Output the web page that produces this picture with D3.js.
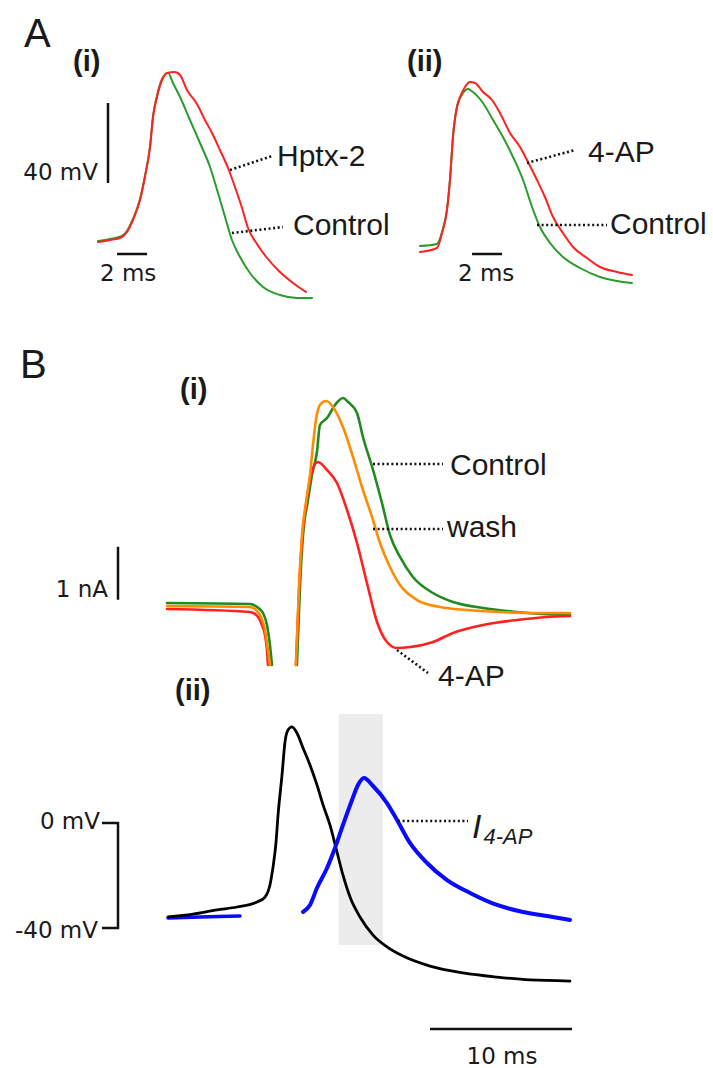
<!DOCTYPE html>
<html><head><meta charset="utf-8">
<script src="https://cdn.jsdelivr.net/npm/d3@7"></script>
<style>
html,body{margin:0;padding:0;background:#fff;}
svg{display:block;}
.lab{font-family:"Liberation Sans",Arial,sans-serif;font-size:30px;fill:#1a1a1a;}
.sub{font-weight:bold;}
.sc{font-family:"DejaVu Sans",sans-serif;font-size:23px;fill:#1a1a1a;}
</style></head><body>
<svg id="c" width="713" height="1068"></svg>
<script>
// ---------- DATA ----------
// Panel A(i): time (ms), membrane potential (mV)
const a1_t_hptx = [0,0.8,1.6,1.93,2.33,2.8,3.13,3.47,3.67,3.93,4.27,4.6,5.13,5.47,5.93,6.6,7.13,7.6,8.13,8.67,9.2,9.6,10.0,10.6,11.27,12.13,13.0,13.87];
const a1_v_hptx = [-61,-60,-58.5,-56,-50,-40,-28.5,-13.5,1.5,11.5,20,23.5,24,22.5,15,8,0,-6.5,-15,-24,-35,-44,-54,-62,-69,-76,-81.5,-86];
const a1_t_ctrl = [0,0.8,1.6,1.93,2.33,2.8,3.13,3.47,3.67,3.93,4.27,4.67,5.0,5.47,6.13,6.8,7.47,8.0,8.47,8.93,9.47,10.13,11.0,12.13,13.27,14.27];
const a1_v_ctrl = [-60.5,-59.5,-58,-55.5,-49.5,-39.5,-28,-13,2,12,20.5,23.5,18.5,11.5,0,-11.5,-23.5,-36.5,-48.5,-60,-68.5,-76.5,-83.5,-87.5,-89,-89];
// Panel A(ii)
const a2_t_4ap = [0,1.13,1.47,1.8,2.0,2.2,2.47,2.67,3.0,3.33,3.67,4.2,4.8,5.33,6.0,6.67,7.2,7.8,8.33,8.87,9.53,10.2,11.13,12.0,13.13,14.13];
const a2_v_4ap = [-61,-59,-51.5,-40,-25,-3.5,11.5,16.5,21.5,24,23.5,19,15,8.5,-1.5,-8.5,-16,-25,-33.5,-43.5,-51.5,-58.5,-64,-68.5,-71,-72.5];
const a2_t_ctrl = [0,1.13,1.47,1.8,2.0,2.2,2.47,2.87,3.2,3.53,4.2,4.87,5.53,6.2,6.87,7.47,8.0,8.67,9.53,10.67,12.0,13.13,14.13];
const a2_v_ctrl = [-58,-57,-51,-39.5,-24.5,-3,12,18.5,20.5,19,13.5,5,-3.5,-13.5,-25,-38.5,-48.5,-56.5,-63.5,-69,-73.5,-75.5,-76.5];
// Panel B(i): time (ms), current (nA); two segments each (before / after the blanked transient)
const b1_ctrl_t1 = [0,5.85,6.34,6.76,7.04,7.25,7.39];
const b1_ctrl_i1 = [0.189,0.170,0.113,0,-0.226,-0.604,-0.981];
const b1_ctrl_t2 = [9.15,9.37,9.58,9.93,10.21,10.56,10.77,11.27,11.83,12.39,12.75,13.38,13.80,14.51,15.14,15.70,16.41,17.32,18.73,20.14,22.25,24.65,26.48,28.38];
const b1_ctrl_i2 = [-0.981,0.528,1.472,2.132,2.604,3.038,3.547,3.679,3.925,4.057,3.981,3.774,3.321,2.698,2.075,1.472,1.057,0.679,0.377,0.208,0.094,0.019,-0.019,-0.038];
const b1_wash_t1 = [0,5.85,6.27,6.62,6.90,7.11,7.25];
const b1_wash_i1 = [0.132,0.113,0.057,-0.075,-0.321,-0.698,-0.981];
const b1_wash_t2 = [9.08,9.30,9.51,9.79,10.07,10.28,10.49,10.77,11.20,11.69,12.39,13.10,13.80,14.44,15.00,15.70,16.41,17.61,19.23,21.13,23.45,25.77,28.38];
const b1_wash_i2 = [-0.981,0.528,1.472,2.094,2.604,3.170,3.642,3.925,4.000,3.887,3.509,2.943,2.321,1.811,1.321,0.868,0.528,0.245,0.113,0.057,0.019,0,0];
const b1_4ap_t1 = [0,5.85,6.41,6.69,6.90,7.04,7.11];
const b1_4ap_i1 = [0.075,0.019,-0.075,-0.226,-0.415,-0.698,-0.981];
const b1_4ap_t2 = [9.08,9.30,9.51,9.79,10.07,10.35,10.63,11.27,11.97,12.68,13.38,14.08,14.79,15.49,16.20,17.11,18.73,20.14,22.25,24.65,26.76,28.38];
const b1_4ap_i2 = [-0.981,0.434,1.377,2.038,2.509,2.774,2.849,2.698,2.453,1.943,1.321,0.566,-0.170,-0.547,-0.660,-0.642,-0.547,-0.377,-0.226,-0.132,-0.075,-0.057];
// Panel B(ii): action potential (mV) and normalised I4-AP
const b2_ap_t = [0.07,1.83,3.52,4.93,6.34,6.90,7.25,7.46,7.68,7.82,8.10,8.31,8.52,8.80,9.15,9.58,10.07,10.56,10.99,11.48,11.97,12.39,12.89,13.59,14.51,15.49,16.62,18.52,20.85,23.24,25.56,28.38];
const b2_ap_v = [-35.8,-34.7,-33.1,-32.0,-30.1,-28.2,-23.6,-17.1,-7.2,3.0,18.3,30.9,35.4,36.6,34.3,28.6,22.1,14.5,6.9,-0.8,-11.0,-19.8,-28.2,-35.8,-42.7,-47.2,-50.7,-54.5,-57.1,-58.7,-59.8,-60.2];
const b2_i_t1 = [0.07,2.32,5.14];
const b2_i_v1 = [0,0.007,0.014];
const b2_i_t2 = [9.58,10.07,10.56,11.27,11.83,12.39,13.03,13.45,13.87,14.51,15.49,16.20,17.11,18.31,19.72,21.34,23.24,25.07,26.76,28.38];
const b2_i_v2 = [0.043,0.093,0.214,0.357,0.5,0.664,0.843,0.95,1.0,0.943,0.821,0.7,0.536,0.393,0.271,0.179,0.093,0.043,0.014,-0.014];
const b2_shade = [12.1, 15.2];      // ms window
// Scale bars (data units)
const barA_mV = [-31.5, 8.5];        // 40 mV
const barA1_ms = [1.27, 3.27];       // 2 ms
const barA2_ms = [3.47, 5.47];       // 2 ms
const barB1_nA = [0.25, 1.25];       // 1 nA
const barB2_mV = [0, -40];           // 0 / -40 mV
const barB2_ms = [18.52, 28.52];     // 10 ms
const scaleText = ["40 mV","2 ms","1 nA","0 mV","-40 mV","10 ms"];

// ---------- SCALES ----------
const xA1 = d3.scaleLinear().domain([0,14]).range([98,308]);
const yA1 = d3.scaleLinear().domain([-90,30]).range([300,60]);
const xA2 = d3.scaleLinear().domain([0,14]).range([420,630]);
const yA2 = d3.scaleLinear().domain([-90,30]).range([310,70]);
const xB  = d3.scaleLinear().domain([0,30]).range([167,593]);
const yB1 = d3.scaleLinear().domain([-1,4.5]).range([666,374.5]);
const yB2 = d3.scaleLinear().domain([-60,40]).range([980.5,718]);
const yB2i= d3.scaleLinear().domain([0,1]).range([918,778]);

const svg = d3.select("#c");
const zip = (a,b)=>a.map((d,i)=>[d,b[i]]);
function trace(xs, ys, t, v, color, w){
  const line = d3.line().x(d=>xs(d[0])).y(d=>ys(d[1])).curve(d3.curveMonotoneX);
  svg.append("path").attr("d", line(zip(t,v))).attr("fill","none")
    .attr("stroke",color).attr("stroke-width",w).attr("stroke-linejoin","round").attr("stroke-linecap","round");
}
function seg(x1,y1,x2,y2,w,dash){
  const l = svg.append("line").attr("x1",x1).attr("y1",y1).attr("x2",x2).attr("y2",y2)
    .attr("stroke","#111").attr("stroke-width",w);
  if(dash) l.attr("stroke-dasharray",dash);
}
function txt(x,y,s,cls,anchor){
  return svg.append("text").attr("x",x).attr("y",y).attr("class",cls).attr("text-anchor",anchor||"start").text(s);
}
const RED="#ff2020", GREEN_A="#2b9b2b", GREEN_B="#1f8a1f", ORANGE="#ff8c00", BLUE="#0a0aff";
const DOT="2,2.6";

// ---------- PANEL A ----------
txt(24,47,"A","lab").style("font-size","40px");
txt(73,71,"(i)","lab sub").style("font-size","29px");
txt(407,71,"(ii)","lab sub").style("font-size","29px");

trace(xA1,yA1,a1_t_ctrl,a1_v_ctrl,GREEN_A,2);
trace(xA1,yA1,a1_t_hptx,a1_v_hptx,RED,2);
trace(xA2,yA2,a2_t_ctrl,a2_v_ctrl,GREEN_A,2);
trace(xA2,yA2,a2_t_4ap,a2_v_4ap,RED,2);

// scale bars A(i)
seg(108,yA1(barA_mV[0]),108,yA1(barA_mV[1]),2.5);
seg(xA1(barA1_ms[0]),yA1(-67),xA1(barA1_ms[1]),yA1(-67),2.5);
txt(98,180,scaleText[0],"sc","end");
txt(100,281,scaleText[1],"sc");
// scale bar A(ii)
seg(xA2(barA2_ms[0]),yA2(-62),xA2(barA2_ms[1]),yA2(-62),2.5);
txt(458,281,scaleText[1],"sc");

// labels A
seg(230,170,272,156,2.6,DOT);
txt(277,166,"Hptx-2","lab");
seg(232,233,283,227,2.6,DOT);
txt(293,235,"Control","lab");
seg(527,163,575,150,2.6,DOT);
txt(588,162,"4-AP","lab");
seg(537,225,607,225,2.6,DOT);
txt(610,234,"Control","lab");

// ---------- PANEL B(i) ----------
txt(20,378,"B","lab").style("font-size","40px");
txt(180,399,"(i)","lab sub").style("font-size","29px");

trace(xB,yB1,b1_ctrl_t1,b1_ctrl_i1,GREEN_B,2.6);
trace(xB,yB1,b1_ctrl_t2,b1_ctrl_i2,GREEN_B,2.6);
trace(xB,yB1,b1_4ap_t1,b1_4ap_i1,RED,2.6);
trace(xB,yB1,b1_4ap_t2,b1_4ap_i2,RED,2.6);
trace(xB,yB1,b1_wash_t1,b1_wash_i1,ORANGE,2.6);
trace(xB,yB1,b1_wash_t2,b1_wash_i2,ORANGE,2.6);

seg(118,yB1(barB1_nA[0]),118,yB1(barB1_nA[1]),2.5);
txt(108,597,scaleText[2],"sc","end");

seg(373,464,443,464,2.6,DOT);
txt(450,475,"Control","lab");
seg(373,529,443,529,2.6,DOT);
txt(447,537,"wash","lab");
seg(397,650,428,673,2.6,DOT);
txt(438,686,"4-AP","lab");

// ---------- PANEL B(ii) ----------
txt(175,700,"(ii)","lab sub").style("font-size","29px");
svg.append("rect").attr("x",xB(b2_shade[0])).attr("width",xB(b2_shade[1])-xB(b2_shade[0]))
  .attr("y",yB2(41.5)).attr("height",yB2(-46.5)-yB2(41.5)).attr("fill","#ececec");

trace(xB,yB2i,b2_i_t1,b2_i_v1,BLUE,3.5);
trace(xB,yB2,b2_ap_t,b2_ap_v,"#000",2.8);
trace(xB,yB2i,b2_i_t2,b2_i_v2,BLUE,4);

// mV bracket
const bx = 118;
svg.append("path").attr("d",`M102,${yB2(barB2_mV[0])}H${bx}V${yB2(barB2_mV[1])}H102`)
  .attr("fill","none").attr("stroke","#111").attr("stroke-width",2.5);
txt(100,829,scaleText[3],"sc","end");
txt(98,938,scaleText[4],"sc","end");
// 10 ms bar
seg(xB(barB2_ms[0]),1029,xB(barB2_ms[1]),1029,2.5);
txt(502,1064,scaleText[5],"sc","middle");

// I4-AP label
seg(398,821,468,821,2.6,DOT);
const tI = svg.append("text").attr("x",472).attr("y",838).attr("class","lab").style("font-style","italic").style("font-size","34px");
tI.append("tspan").text("I");
tI.append("tspan").attr("dx",2).attr("dy",6).style("font-size","22px").text("4-AP");
</script>
</body></html>
